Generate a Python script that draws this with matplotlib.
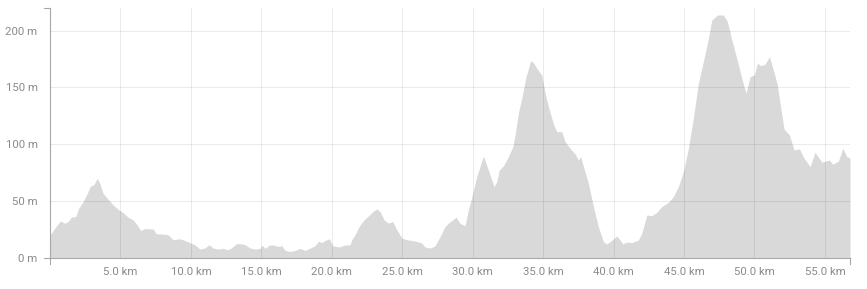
import matplotlib
matplotlib.use("Agg")
import matplotlib.pyplot as plt
from matplotlib.lines import Line2D

# profil d'altitude (distance en km, altitude en m)
distance_km = [
    0.00, 0.34, 0.74, 1.05, 1.28, 1.52, 1.83, 2.04, 2.35, 2.65, 2.87, 3.11,
    3.36, 3.53, 3.77, 4.12, 4.48, 4.83, 5.19, 5.54, 5.90, 6.13, 6.44, 6.73,
    7.32, 7.55, 8.03, 8.38, 8.74, 9.21, 9.57, 9.99, 10.28, 10.63, 10.99, 11.29,
    11.58, 11.93, 12.29, 12.59, 12.87, 13.23, 13.58, 13.85, 14.20, 14.56, 14.91, 15.05,
    15.27, 15.57, 15.86, 16.21, 16.45, 16.69, 17.04, 17.40, 17.75, 18.10, 18.46, 18.81,
    19.05, 19.29, 19.52, 19.83, 20.07, 20.47, 20.94, 21.30, 21.42, 21.65, 21.94, 22.29,
    22.60, 22.91, 23.19, 23.43, 23.71, 24.02, 24.33, 24.61, 24.97, 25.32, 25.68, 26.03,
    26.39, 26.62, 26.98, 27.33, 27.69, 28.04, 28.40, 28.82, 29.10, 29.46, 29.69, 29.94,
    30.29, 30.76, 31.11, 31.52, 31.71, 31.89, 32.18, 32.53, 32.85, 33.01, 33.24, 33.48,
    33.79, 34.12, 34.31, 34.59, 34.90, 35.14, 35.44, 35.73, 35.97, 36.32, 36.56, 36.91,
    37.27, 37.50, 37.67, 37.86, 38.21, 38.57, 38.92, 39.28, 39.52, 39.75, 40.23, 40.46,
    40.65, 40.94, 41.29, 41.76, 42.00, 42.36, 42.71, 43.07, 43.42, 43.89, 44.24, 44.60,
    44.95, 45.31, 45.66, 46.02, 46.37, 46.73, 46.97, 47.37, 47.79, 48.08, 48.39, 48.74,
    49.10, 49.40, 49.69, 49.99, 50.21, 50.45, 50.75, 51.06, 51.34, 51.62, 51.87, 52.10,
    52.48, 52.81, 53.19, 53.52, 53.95, 54.30, 54.78, 55.32, 55.56, 55.96, 56.27, 56.55,
    56.78,
]
elevation_m = [
    20.0, 26.0, 32.4, 30.4, 31.8, 35.7, 36.2, 43.6, 49.4, 56.7, 63.1, 64.3,
    69.9, 65.5, 56.7, 51.5, 46.5, 42.7, 39.7, 35.7, 33.3, 29.8, 23.9, 25.7,
    25.2, 21.0, 20.8, 20.2, 15.8, 16.7, 15.2, 12.9, 11.4, 7.6, 8.5, 11.4,
    8.5, 7.6, 8.2, 7.0, 8.5, 12.3, 12.3, 11.4, 8.5, 7.6, 8.2, 11.1,
    8.2, 11.1, 11.1, 9.9, 10.5, 6.4, 5.5, 6.4, 8.2, 6.4, 8.5, 10.5,
    14.3, 13.4, 15.2, 16.7, 10.5, 9.4, 11.1, 11.4, 15.8, 20.2, 27.5, 33.3,
    36.8, 40.6, 43.0, 40.6, 33.3, 30.4, 31.8, 24.6, 17.3, 15.8, 15.2, 14.3,
    12.9, 9.4, 8.5, 10.5, 18.7, 27.5, 31.7, 35.6, 30.3, 28.2, 42.0, 53.7,
    71.4, 89.6, 77.3, 62.6, 67.0, 77.3, 80.8, 89.0, 97.8, 108.0, 127.2, 140.4,
    159.5, 173.6, 171.8, 166.0, 161.0, 144.8, 130.1, 117.8, 111.0, 111.0, 102.2, 96.4,
    91.4, 86.1, 89.0, 80.2, 65.6, 45.0, 27.3, 14.1, 12.1, 14.1, 19.1, 15.6,
    12.1, 13.8, 13.2, 15.6, 21.5, 37.6, 37.0, 40.0, 45.0, 48.8, 53.7, 62.6,
    75.8, 96.4, 122.8, 153.7, 172.7, 193.3, 209.4, 213.8, 213.8, 207.9, 191.8, 175.7,
    158.0, 144.8, 159.5, 161.0, 171.3, 169.2, 170.4, 177.1, 165.4, 152.2, 131.6, 113.4,
    108.1, 94.9, 95.8, 87.6, 80.2, 92.9, 84.1, 86.1, 82.3, 85.2, 96.4, 89.0,
    88.1,
]
x_ticks_km = [5, 10, 15, 20, 25, 30, 35, 40, 45, 50, 55]
y_ticks_m = [0, 50, 100, 150, 200]

W, H, DPI = 867, 289, 100
# bords de la zone de tracé, en pixels depuis le coin haut-gauche
PX_L, PX_R, PX_T, PX_B = 50.0, 850.0, 8.0, 257.7

fig = plt.figure(figsize=(W / DPI, H / DPI), dpi=DPI)
ax = fig.add_axes([PX_L / W, 1 - PX_B / H, (PX_R - PX_L) / W, (PX_B - PX_T) / H])

ax.fill_between(distance_km, elevation_m, 0, color='#d9d9d9', lw=0, zorder=1)

ax.set_xlim(0, max(distance_km))
ax.set_ylim(0, 220)

ax.set_xticks(x_ticks_km)
ax.set_xticklabels([f'{v:.1f} km' for v in x_ticks_km])
ax.set_yticks(y_ticks_m)
ax.set_yticklabels([f'{v} m' for v in y_ticks_m])

ax.set_axisbelow(False)
ax.grid(True, color='black', alpha=0.08, lw=0.75)
ax.tick_params(length=0, colors='#8a8a8a', labelsize=8.2)
ax.tick_params(axis='x', pad=7)
ax.tick_params(axis='y', pad=9)
for lab in ax.get_xticklabels() + ax.get_yticklabels():
    lab.set_fontfamily(['Roboto', 'DejaVu Sans'])

for side in ['top', 'right']:
    ax.spines[side].set_visible(False)
for side in ['left', 'bottom']:
    ax.spines[side].set_color('#a8a8a8')
    ax.spines[side].set_linewidth(0.8)

# petits traits d'extrémité des axes (style d3)
def trait(x0, y0, x1, y1):
    fig.add_artist(Line2D([x0 / W, x1 / W], [1 - y0 / H, 1 - y1 / H],
                          color='#a8a8a8', lw=0.8, transform=fig.transFigure))

trait(PX_L, PX_B, PX_L, PX_B + 6)
trait(PX_L - 6, PX_B, PX_L, PX_B)
trait(PX_L - 6, PX_T, PX_L, PX_T)
trait(PX_R, PX_B, PX_R, PX_B + 6)

fig.savefig('out.png', dpi=DPI)
